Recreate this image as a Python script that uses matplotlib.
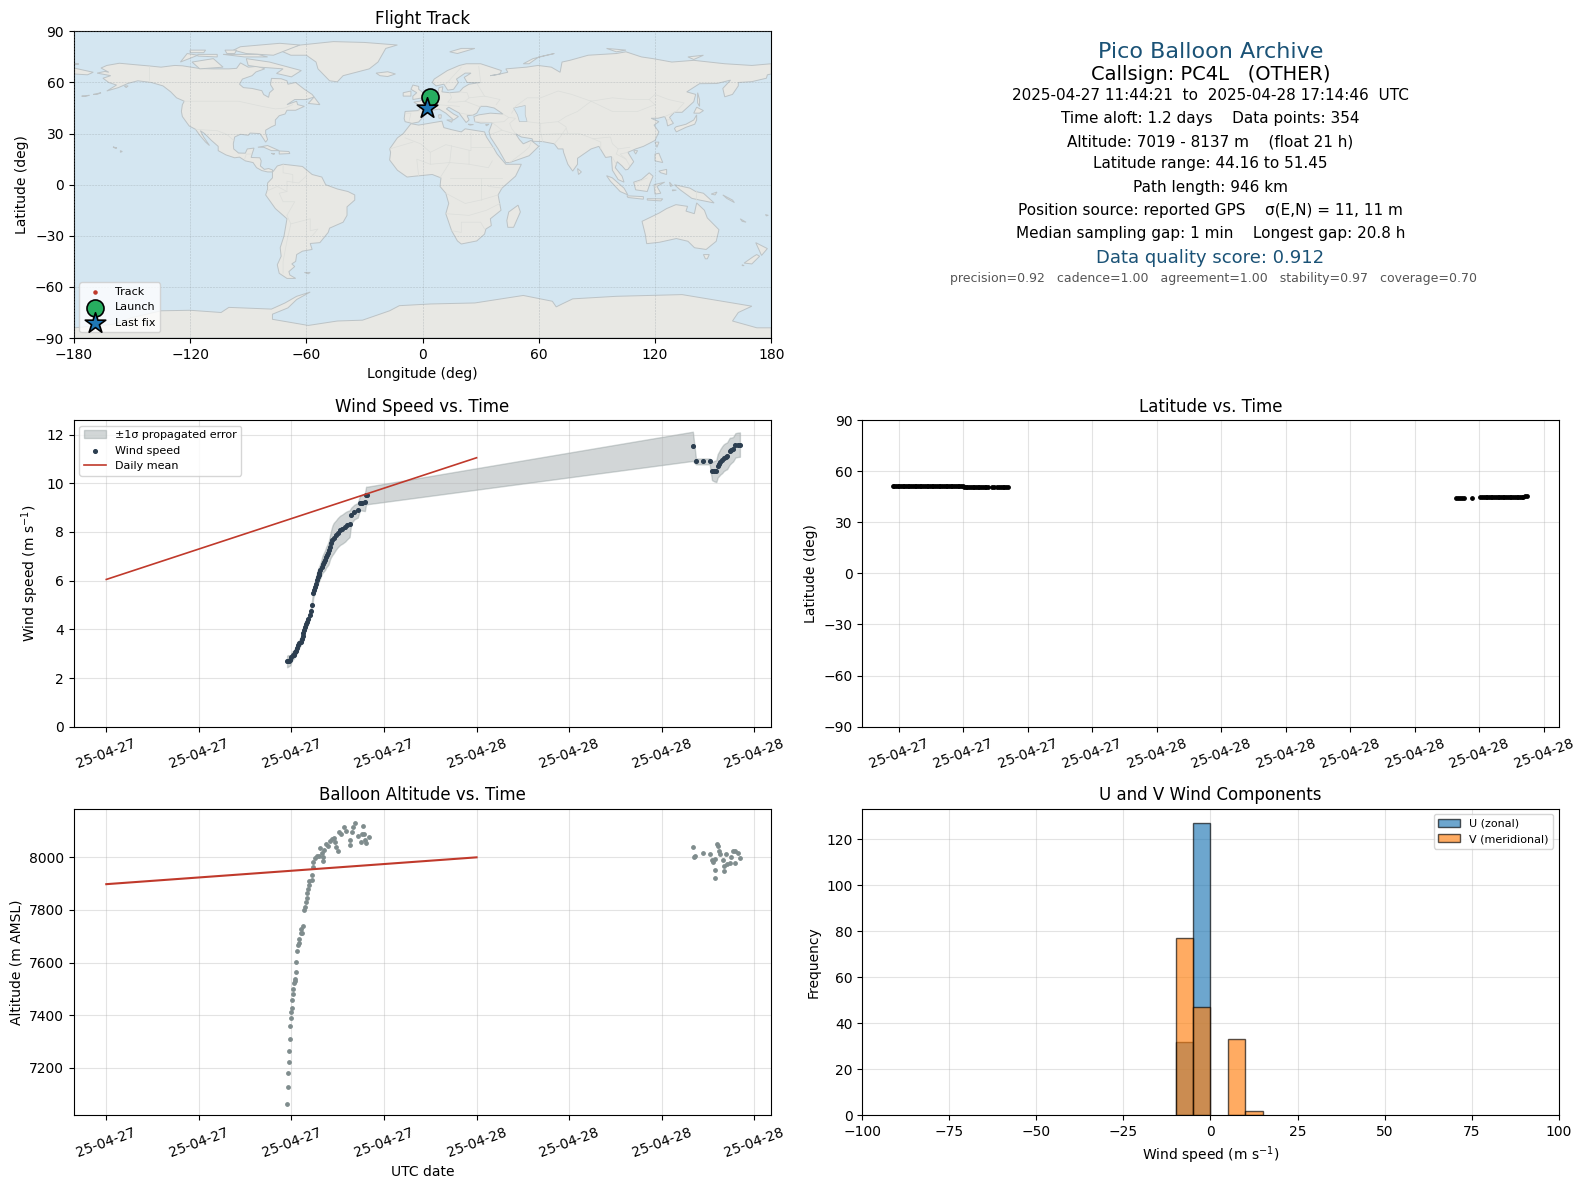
import matplotlib
matplotlib.use('Agg')
import matplotlib.pyplot as plt
import matplotlib.dates as mdates
import pandas as pd

# hours are counted from 2025-04-27 00:00 UTC
T0 = pd.Timestamp('2025-04-27 00:00:00')

wind_hours = [11.72, 11.78, 11.85, 11.93, 12.0, 12.08, 12.15, 12.22, 12.3, 12.37, 12.45, 12.52, 12.59, 12.66,
              12.72, 12.76, 12.82, 12.87, 12.95, 13.03, 13.1, 13.2, 13.26, 13.33, 13.42, 13.47, 13.53, 13.58,
              13.64, 13.7, 13.76, 13.81, 13.88, 13.96, 14.02, 14.1, 14.18, 14.25, 14.33, 14.4, 14.46, 14.51,
              14.58, 14.66, 14.74, 14.88, 15.0, 15.16, 15.3, 15.49, 15.6, 15.77, 15.88, 16.08, 16.3, 16.44,
              16.5, 16.58, 16.76, 16.84, 16.91, 38.02, 38.22, 38.65, 39.11, 39.26, 39.4, 39.54, 39.63, 39.72,
              39.8, 39.92, 40.02, 40.14, 40.24, 40.41, 40.52, 40.63, 40.78, 40.92, 41.07]
wind_speed = [2.68, 2.7, 2.71, 2.72, 2.85, 2.93, 2.95, 3.05, 3.12, 3.23, 3.35, 3.43, 3.5, 3.62,
              3.72, 3.84, 3.96, 4.11, 4.2, 4.32, 4.44, 4.59, 4.75, 5.0, 5.48, 5.6, 5.75, 5.88,
              6.02, 6.15, 6.22, 6.3, 6.42, 6.57, 6.68, 6.76, 6.84, 6.96, 7.04, 7.12, 7.26, 7.39,
              7.53, 7.66, 7.75, 7.87, 7.97, 8.07, 8.12, 8.21, 8.27, 8.34, 8.68, 8.82, 8.89, 9.19,
              9.19, 9.2, 9.22, 9.5, 9.5, 11.52, 10.9, 10.9, 10.9, 10.5, 10.5, 10.5, 10.72, 10.8,
              10.88, 10.97, 11.05, 11.1, 11.13, 11.32, 11.36, 11.4, 11.56, 11.58, 11.59]
wind_err = [0.24, 0.24, 0.22, 0.2, 0.18, 0.18, 0.16, 0.16, 0.16, 0.16, 0.16, 0.16, 0.16, 0.16,
            0.16, 0.16, 0.16, 0.16, 0.16, 0.16, 0.16, 0.16, 0.16, 0.16, 0.16, 0.2, 0.22, 0.24,
            0.26, 0.28, 0.3, 0.3, 0.3, 0.32, 0.35, 0.38, 0.4, 0.42, 0.44, 0.46, 0.48, 0.5,
            0.55, 0.6, 0.62, 0.6, 0.6, 0.6, 0.6, 0.6, 0.58, 0.55, 0.32, 0.3, 0.3, 0.3,
            0.3, 0.32, 0.36, 0.36, 0.36, 0.6, 0.12, 0.12, 0.12, 0.37, 0.42, 0.45, 0.48, 0.5,
            0.52, 0.55, 0.55, 0.55, 0.55, 0.55, 0.52, 0.5, 0.5, 0.5, 0.5]

mean_hours = [0.0, 24.0]
mean_wind = [6.05, 11.05]
mean_alt = [7898, 8000]

lat_hours = [11.74, 11.8, 11.88, 11.95, 12.02, 12.1, 12.18, 12.26, 12.34, 12.42, 12.5, 12.58, 12.66, 12.74,
             12.82, 12.9, 12.98, 13.06, 13.14, 13.22, 13.3, 13.38, 13.46, 13.54, 13.62, 13.7, 13.78, 13.86,
             13.94, 14.02, 14.1, 14.18, 14.26, 14.34, 14.42, 14.5, 14.58, 14.66, 14.74, 14.82, 14.9, 14.98,
             15.05, 15.12, 15.2, 15.28, 15.36, 15.44, 15.52, 15.6, 15.68, 15.76, 15.84, 15.92, 16.0, 16.08,
             16.16, 16.34, 16.42, 16.58, 16.68, 16.76, 16.84, 16.92, 17.0, 17.07,
             37.93, 38.02, 38.12, 38.22, 38.3, 38.66, 39.06, 39.14, 39.22, 39.3, 39.38, 39.46, 39.54, 39.62,
             39.7, 39.78, 39.86, 39.94, 40.02, 40.1, 40.18, 40.26, 40.34, 40.42, 40.5, 40.58, 40.66, 40.74,
             40.82, 40.9, 40.98, 41.06, 41.14, 41.22]
latitude = [51.45, 51.44, 51.43, 51.42, 51.42, 51.41, 51.4, 51.4, 51.39, 51.38, 51.38, 51.37, 51.36, 51.36,
            51.35, 51.34, 51.34, 51.33, 51.32, 51.32, 51.31, 51.3, 51.3, 51.29, 51.28, 51.28, 51.27, 51.26,
            51.26, 51.25, 51.24, 51.24, 51.23, 51.22, 51.22, 51.21, 51.2, 51.2, 51.19, 51.18, 51.15, 51.1,
            50.9, 50.85, 50.82, 50.8, 50.78, 50.76, 50.74, 50.72, 50.7, 50.69, 50.68, 50.67, 50.66, 50.65,
            50.64, 50.62, 50.6, 50.58, 50.56, 50.55, 50.54, 50.53, 50.52, 50.5,
            44.16, 44.17, 44.18, 44.2, 44.22, 44.3, 44.62, 44.64, 44.66, 44.66, 44.68, 44.7, 44.7, 44.72,
            44.72, 44.74, 44.75, 44.76, 44.76, 44.78, 44.78, 44.8, 44.8, 44.82, 44.84, 44.86, 44.88, 44.9,
            44.94, 44.98, 45.02, 45.1, 45.2, 45.3]

alt_hours = [11.72, 11.78, 11.78, 11.85, 11.85, 11.91, 11.91, 11.98, 11.98, 12.04, 12.04, 12.11, 12.11, 12.17,
             12.22, 12.26, 12.31, 12.31, 12.37, 12.41, 12.5, 12.5, 12.59, 12.7, 12.65, 12.76, 12.83, 12.87,
             12.96, 12.98, 13.03, 13.05, 13.11, 13.16, 13.31, 13.35, 13.42, 13.42, 13.53, 13.64, 13.85, 13.96,
             14.07, 14.02, 13.81, 14.14, 14.25, 14.4, 14.47, 14.62, 14.77, 14.84, 14.9, 15.01, 15.1, 15.23,
             15.38, 15.56, 15.77, 15.77, 15.93, 15.99, 16.1, 16.32, 16.5, 16.58, 16.63, 16.73, 16.78, 16.84,
             17.02, 38.0, 38.07, 38.17, 38.65, 39.11, 39.26, 39.33, 39.43, 39.43, 39.43, 39.59, 39.63, 39.7,
             39.8, 39.96, 40.02, 40.02, 40.2, 40.24, 40.41, 40.52, 40.63, 40.78, 40.93, 40.74, 41.07]
altitude = [7063, 7128, 7181, 7223, 7265, 7311, 7357, 7391, 7411, 7429, 7456, 7479, 7498, 7521,
            7530, 7538, 7563, 7601, 7643, 7667, 7676, 7690, 7714, 7714, 7727, 7738, 7799, 7813,
            7830, 7847, 7864, 7879, 7894, 7911, 7915, 7931, 7962, 7983, 7997, 8006, 8036, 8015,
            7987, 8000, 8006, 8028, 8051, 8045, 8064, 8070, 8074, 8057, 8038, 8023, 8095, 8089,
            8114, 8099, 8066, 8047, 8095, 8114, 8130, 8083, 8058, 8089, 8120, 8089, 8066, 8055,
            8078, 8038, 8003, 8006, 8018, 8011, 7991, 7982, 7995, 7953, 7922, 8052, 8042, 8025,
            8013, 7991, 7966, 7949, 8013, 7975, 7978, 8003, 8025, 8023, 8018, 7978, 7997]

bin_left = [-10, -5, 5, 10]
u_counts = [32, 127, 0, 0]
v_counts = [77, 47, 33, 2]
bin_width = 5

track_lon = [3.6, 3.4, 3.1, 2.8, 2.5, 2.2]
track_lat = [51.45, 50.8, 50.5, 44.2, 44.7, 45.3]

north_america = [(-168,65.5),(-164,66.5),(-162,66),(-166,68.5),(-163,70),(-156.5,71.3),(-148,70.4),(-141,69.7),(-135,69),(-128,70),(-124,69.8),(-115,68.2),(-108,68),(-100,68),(-96,68.3),(-94,71.5),(-90,69),(-85,69.5),(-81.5,68),(-86,66.2),(-88,64),(-93,62),(-94.5,59),(-92.5,57),(-88,56.5),(-83,55.2),(-82,52.9),(-79.5,51.3),(-79,54),(-77,56),(-78.5,58.7),(-78,62.4),(-73,62.2),(-70,61),(-69.5,59),(-65.5,60),(-61,56),(-57,53),(-56,51.5),(-60,50),(-66,50),(-70,47),(-65,49),(-64.5,47),(-61,46),(-65.5,43.7),(-70,43.7),(-71,41.5),(-74,40.5),(-76,38),(-76,35),(-78,34),(-81,32),(-81,30),(-80,26.5),(-81,25),(-82.7,28),(-84,30),(-89,30.3),(-90,29),(-94,29.6),(-97,28),(-97.7,24),(-97.5,21),(-95,18.6),(-91.5,18.5),(-90.5,21),(-87,21.5),(-88,18),(-88.5,16),(-84,15.8),(-83.3,14),(-83.7,11),(-81.7,9),(-79.5,9.5),(-77.5,8.7),(-77.5,7.5),(-80,7.5),(-83,8.3),(-85.7,10),(-87.5,13),(-91.5,14),(-94.5,16.2),(-97,15.8),(-101.5,17.5),(-105.5,20),(-105.5,22.5),(-109,26),(-112.5,30),(-114.7,31.7),(-113,28),(-110,23),(-112,25),(-115,29),(-117.2,32.5),(-120.5,34.5),(-124,40),(-124.5,43),(-124,47),(-123,49),(-127,51),(-130,54.5),(-134,58),(-140,60),(-147,61),(-152,59.5),(-157,57),(-163,55),(-158,58.5),(-162,60),(-165,62.5),(-161,64)]
south_america = [(-77,8),(-75,11),(-72,12),(-68,11.5),(-62,10.7),(-57,6),(-52,4.5),(-50,0),(-44,-2.5),(-38.5,-4),(-35,-6),(-35,-9),(-39,-13),(-39,-18),(-41,-22),(-48,-25.5),(-48.7,-28),(-53,-34),(-58,-34.5),(-57,-38),(-62,-39),(-65,-41),(-65.5,-45),(-67.5,-46.5),(-66,-48),(-69,-51),(-68.5,-53),(-65.5,-55),(-70,-55),(-74,-52),(-75,-47),(-73,-42),(-73.5,-37),(-71.5,-30),(-70,-20),(-76,-14),(-81,-6),(-80,-2.5),(-80,1),(-77.5,4),(-77.5,7.5)]
africa = [(-6,35.8),(-2,35),(10,37.3),(11,33.5),(15,32.3),(20,31),(22,32.8),(32,31),(33,28),(37,21),(38.5,18),(43,12),(51,12),(48,5),(41,-2),(39,-6),(40.5,-15),(35,-20),(35.5,-24),(32.7,-26),(32,-29),(28,-33),(20,-34.8),(18,-33),(15,-27),(12,-17),(13.5,-11),(12,-5),(9,-1),(9.5,4),(5,6),(-4,5),(-8,4.5),(-13,8.5),(-17,14.5),(-16.5,19),(-17,21),(-13,27.5),(-10,30)]
eurasia = [(-9,37),(-9.5,38.8),(-9,43),(-2,43.5),(-1,46),(-4.5,48.5),(-1.5,49),(2,51),(4,52),(8,54),(8.5,57),(10.5,57.5),(10,54.5),(14,54),(19,54.5),(21,57),(24,59),(30,60),(23,60),(21.5,63),(25,65.5),(22,65.5),(17.5,62),(18.5,60),(16,56),(13,55.5),(11,59),(7,58),(5,60),(6,62),(12.8,67),(19,70),(22.6,71),(30,71),(40.7,67),(40,65),(35,64),(38,64.5),(44,66),(43,68),(53.6,69),(59.6,70),(66.5,69),(71,66),(72,72),(76,73),(85.5,76),(100,77),(105,78),(113,75),(119,74),(128.7,72),(140,73),(156,71),(170,70),(180,71),(180,65),(178,64.5),(177.5,62.5),(170,60.5),(163,60),(163,58),(160,53),(156,51.6),(155,56.5),(159,61.4),(152,59.4),(143,59.3),(136.4,54.5),(141,53),(140,48.7),(134,42.5),(130,42.5),(127.5,39.5),(129.5,36),(126.5,34.5),(126,37.5),(125,40),(121.5,39),(118,39),(122,37),(119.5,35),(122,31),(120,26),(114,22.5),(110,21),(106,19),(109,13.5),(106,9),(104.8,8.7),(103,11),(100.5,13.5),(99.5,10),(103,5),(104,1.5),(101,3),(98,8.5),(97.5,16.5),(94.5,16),(91,22.5),(87,21),(80,15.5),(80,12),(77.5,8),(75,12),(72.8,19),(72.5,21),(70,21),(68,24),(62,25.3),(57,25.5),(56.5,27),(51,28),(48,30),(50,26.5),(52,24),(56,26),(60,22.5),(55,17),(45,13),(43,13),(39,21),(35,28),(34.3,31.3),(36,36.5),(30,36.2),(27,37),(26.5,40),(29,41),(35,42),(41.5,41.5),(37,45),(33,46),(30,46),(28,42),(26,40.8),(23,40.5),(24,38),(22.5,36.5),(19.5,41),(19,42),(13.5,45.5),(12.3,44.5),(16,41.5),(18.5,40),(16,38),(12,42),(8.5,44.4),(3.5,43.3),(0,39.5),(-2,36.8),(-5.5,36)]
australia = [(113.3,-21.5),(122.2,-16.6),(126,-14),(130.8,-11.7),(136.8,-12.7),(136,-15.5),(140.3,-17),(141.5,-10.7),(145.5,-15),(147,-19.5),(153,-26.4),(151.6,-33.2),(146.4,-38),(140.4,-37),(137,-33.2),(131,-31.6),(122.2,-33.8),(115.7,-34.6),(115,-29.3)]
antarctica = [(-180,-84),(-160,-82),(-150,-78),(-135,-74),(-120,-73.7),(-104,-75),(-100,-72),(-78,-73),(-71,-69.4),(-65,-65.5),(-58,-63),(-65,-67.4),(-69.5,-72.3),(-77.5,-76),(-77.5,-79),(-59,-82.6),(-44,-80),(-31,-79.5),(-17,-74),(-12,-71),(4,-70),(27,-69.4),(52,-65),(67,-68.4),(69,-71.7),(72,-70),(77.5,-67),(100,-65.5),(134,-64.5),(160,-69.4),(170,-71.3),(163,-75),(160,-80),(172.6,-84),(180,-84),(180,-90),(-180,-90)]
islands = [
    [(-74,79),(-63,82),(-46,84),(-30,83.5),(-13,82),(-19,80),(-23,72),(-27.5,68),(-41,64),(-44,60.4),(-48,61),(-54,68),(-55,72),(-60,76),(-68,76)],
    [(-91,74),(-79,72),(-62.6,67),(-67.7,63.3),(-75.4,65.3),(-72,68),(-84,69),(-90,70)],
    [(-119,72),(-108,74),(-103,69),(-115,68)],
    [(-97.6,79),(-94,81),(-73.7,83),(-63.4,82),(-77,76),(-91,77)],
    [(-125,72),(-121.5,77),(-116,76)],
    [(-103,76.5),(-92,75),(-80,75),(-85,76.5)],
    [(-116,75.5),(-106,75),(-106,76.5),(-116,76.5)],
    [(-102,79),(-96,79),(-97,77),(-101,77)],
    [(-120,79),(-112,79),(-113,77.5),(-120,77.5)],
    [(-59,47.7),(-56,51.5),(-53,47)],
    [(-5,50),(1,51.2),(1.5,53),(-2,56),(-2,57.7),(-5,58.5),(-6,56),(-3,54),(-5,52)],
    [(-10,52),(-6,52),(-6,55),(-10,54)],
    [(-24,65.5),(-18,66.3),(-14,65),(-18,63.5),(-22,64)],
    [(12.5,38),(15.5,38),(15,36.7)],
    [(8.3,41),(9.7,41),(9.5,39),(8.5,39)],
    [(49.3,-12),(50.5,-16),(47,-25),(44,-25),(43.5,-21),(44.5,-16)],
    [(80,9.5),(82,7.5),(80.5,6)],
    [(130.9,34),(136,35.5),(140,38),(141.5,41),(141.5,38),(140.5,35.5),(136,33.7),(131,31),(130,33)],
    [(140,42),(141.5,45.5),(145,43.5),(143,42)],
    [(142,54),(143,50),(143,46),(142,48)],
    [(120,25),(122,25),(121,22)],
    [(109,20),(111,20),(110,18)],
    [(120,18),(122,18.5),(124,13),(120,14)],
    [(122,8),(126,9),(126,6),(123,7)],
    [(109,1.5),(113,3),(117,7),(119,5),(117.5,1),(116,-4),(110,-3)],
    [(95,5.3),(98,4),(104,-2),(106,-6),(102,-4),(97,2)],
    [(105.5,-6.5),(114,-7),(114,-8.5),(106,-7.5)],
    [(116,-8.2),(124,-8.3),(123,-9.5),(116,-9)],
    [(119.5,0),(125,1.5),(121,-1),(123,-5),(120,-5.5)],
    [(127.5,1.5),(129,-0.5),(128,-1)],
    [(129,-3),(131,-3.2),(129,-3.6)],
    [(130,0),(138,-2),(141,-4),(145,-5),(150.5,-10.7),(143,-9),(139,-8),(133,-3)],
    [(149,-5.5),(152,-4.3),(151,-6)],
    [(155,-6),(160,-9),(161,-10.5),(157,-8)],
    [(164,-20),(167,-22),(165,-21.5)],
    [(177,-17.5),(178.5,-18),(177.5,-18.3)],
    [(145,-41),(148,-41),(147,-43.5),(146,-43.5)],
    [(172,-34),(178,-37.5),(175,-41.5),(174,-39)],
    [(172.5,-41),(174,-42),(170,-46.5),(166,-46),(171,-42)],
    [(-85,22),(-80,23),(-74,20),(-78,20),(-82,22)],
    [(-74,19.8),(-69,19.5),(-68.5,18.3),(-74,18)],
    [(-78,18.4),(-76.3,18.2),(-77,17.8)],
    [(14,78),(20,80),(27,80),(18,77)],
    [(52,71),(57,74),(68,77),(60,75),(55,71)],
    [(-61,-51.5),(-58,-51.5),(-59,-52.3)],
    [(-156,20),(-155,19.5),(-156,19)],
    [(-159.8,22.2),(-157.8,21.6),(-158.5,21.3)],
    [(-180,71.5),(-178,71.5),(-178,70.8),(-180,70.8)],
    [(-180,68.5),(-170,66),(-173,64.5),(-180,65)],
    [(-170,53),(-166,54),(-168,53)],
    [(-176,52),(-172,52.5),(-174,51.8)],
    [(-154,58),(-152,58),(-153,57)],
    [(95,80),(105,79),(100,78)],
    [(137,75),(145,76),(140,73.5)],
    [(165,-47),(166,-47.5),(165,-47.5)],
    [(32.5,35.3),(34.3,35.5),(33,34.6)],
    [(23.5,35.5),(26.2,35.3),(24.5,35)],
]
lakes = [
    [(47,45),(53,46.5),(53,41),(54,37),(50,37),(49,41)],
]
borders = [
    [(-123,49),(-95,49),(-83,46),(-76,44.5),(-71,45),(-67,47)],
    [(-141,69.7),(-141,60)],
    [(-117,32.5),(-106,31.7),(-101,29.5),(-97.5,26)],
    [(-92,14.5),(-91,18),(-88.5,18)],
    [(-70,-18),(-68,-23),(-70,-33),(-72,-45),(-72,-52)],
    [(-70,-18),(-66,-10),(-72,-10),(-74,-5),(-70,-4),(-70,2),(-64,1),(-60,5)],
    [(-80,-3.5),(-75,-1),(-70,-4)],
    [(-68,-23),(-58,-20),(-58,-27),(-54,-26),(-57,-30)],
    [(-72,12),(-72,7),(-67,6),(-67,1)],
    [(-9,27.5),(-1,24),(4,19),(12,23.5),(25,20),(25,31)],
    [(25,22),(37,22)],
    [(-17,21),(-5,25)],
    [(4,19),(4,12),(14,13),(15,23)],
    [(14,13),(24,12),(24,20)],
    [(24,12),(34,10),(36,14)],
    [(9,4),(14,13)],
    [(14,4),(30,4),(34,4),(41,4)],
    [(12,-5),(22,-11),(30,-9),(39,-6)],
    [(12,-17),(24,-18),(33,-15),(40,-11)],
    [(15,-27),(20,-28),(20,-22),(30,-22),(32,-26)],
    [(-2,5),(-3,15),(4,12)],
    [(30,4),(30,-9)],
    [(34,-1),(41,-2)],
    [(-9,42),(-6,42),(-7,37)],
    [(-2,43.5),(3,42.5)],
    [(2,51),(8,49),(7,47),(13.5,46.5),(19,46)],
    [(7,53.5),(6,50),(8,49)],
    [(14,54),(15,51),(13,48.5),(17,48.5),(22,49),(24,51),(23,54),(19,54.5)],
    [(24,51),(32,52),(40,50),(38,47)],
    [(22,49),(29,46),(30,46)],
    [(28,59.5),(32,52)],
    [(30,60),(29,69.5)],
    [(12,59),(16,64),(20,69)],
    [(26,40.8),(22,41.5),(19.5,42)],
    [(27,37),(36,36.5),(42,37),(44.5,39.5),(41.5,41.5)],
    [(36,36.5),(41,32),(47,30),(48,30)],
    [(41,32),(35,29.5)],
    [(44.5,39.5),(48,39),(45,36),(46,33),(48,30)],
    [(45,13),(52,19),(55,22),(56,25)],
    [(46,42),(48,46),(54,51),(61,51),(70,55),(77,53),(87,49)],
    [(87,49),(98,51),(107,50),(117,50),(120,53),(127,50),(135,48),(131,43),(130,42.5)],
    [(87,49),(80,43),(74,40),(70,37),(74,34),(75,30),(81,30),(88,27),(97,28),(98,24),(101,21),(107,22)],
    [(87,49),(98,43),(111,43),(120,47),(117,50)],
    [(54,37),(61,36),(61,31),(62,25.3)],
    [(61,36),(70,37)],
    [(61,29.5),(70,30),(75,30)],
    [(68,24),(71,28),(74,33)],
    [(88,27),(92,25),(92,21)],
    [(101,21),(100,18),(105,15),(107,11)],
    [(106,19),(102,18),(105,15)],
    [(98,16),(100,12)],
    [(125,40),(130,42.5)],
    [(126.5,38),(128.5,38.5)],
    [(141,-3),(141,-9)],
    [(110,1),(116,4)],
]

W, H = 1587, 1189
k = 1587 / 1568


def place(x0, x1, y0, y1):
    # pixel box -> figure fractions
    return [x0 * k / W, 1 - y1 * k / H, (x1 - x0) * k / W, (y1 - y0) * k / H]


def to_dates(hours):
    return T0 + pd.to_timedelta(hours, unit='h')


def time_axis(ax, step, low, high):
    ax.xaxis.set_major_locator(mdates.HourLocator(byhour=range(0, 24, step)))
    ax.xaxis.set_major_formatter(mdates.DateFormatter('%y-%m-%d'))
    ax.set_xlim(to_dates([low])[0], to_dates([high])[0])
    ax.tick_params(axis='x', labelrotation=20)
    ax.grid(True, color='#b0b0b0', alpha=0.35, linewidth=0.8)


fig = plt.figure(figsize=(W / 100, H / 100), dpi=100)

# flight track map
ax = fig.add_axes(place(73, 762, 31, 334))
ax.set_facecolor('#d4e6f1')
for poly in [north_america, south_america, africa, eurasia, australia, antarctica] + islands:
    ax.fill([p[0] for p in poly], [p[1] for p in poly], facecolor='#e8e8e4', edgecolor='#bcc3c6',
            linewidth=0.7, zorder=1)
for poly in lakes:
    ax.fill([p[0] for p in poly], [p[1] for p in poly], facecolor='#d4e6f1', edgecolor='#bcc3c6',
            linewidth=0.5, zorder=1.1)
for line in borders:
    ax.plot([p[0] for p in line], [p[1] for p in line], color='#dcdedb', linewidth=0.5, zorder=1.2)
ax.grid(True, linestyle='--', linewidth=0.4, color='#8a9499', alpha=0.45, zorder=1.5)
ax.set_axisbelow(False)
ax.scatter(track_lon, track_lat, s=5, color='#c0392b', label='Track', zorder=3)
ax.scatter(track_lon[0], track_lat[0], s=150, color='#27ae60', edgecolor='black', linewidth=1.2,
           label='Launch', zorder=4)
ax.scatter(track_lon[-1], track_lat[-1], s=240, marker='*', color='#1f77b4', edgecolor='black',
           linewidth=1.2, label='Last fix', zorder=5)
ax.set_xlim(-180, 180)
ax.set_ylim(-90, 90)
ax.set_xticks(range(-180, 181, 60))
ax.set_yticks(range(-90, 91, 30))
ax.set_xlabel('Longitude (deg)')
ax.set_ylabel('Latitude (deg)')
ax.set_title('Flight Track', pad=5.5)
ax.legend(loc='lower left', fontsize=8)

# summary text
ax = fig.add_axes(place(852, 1540, 31, 334))
ax.axis('off')
ax.set_xlim(0, 1)
ax.set_ylim(334, 31)
ax.text(0.5, 51, 'Pico Balloon Archive', ha='center', va='center', fontsize=16, color='#1a5276')
ax.text(0.5, 74, 'Callsign: PC4L   (OTHER)', ha='center', va='center', fontsize=14)
lines = ['2025-04-27 11:44:21  to  2025-04-28 17:14:46  UTC',
         'Time aloft: 1.2 days    Data points: 354',
         'Altitude: 7019 - 8137 m    (float 21 h)',
         'Latitude range: 44.16 to 51.45',
         'Path length: 946 km',
         'Position source: reported GPS    σ(E,N) = 11, 11 m',
         'Median sampling gap: 1 min    Longest gap: 20.8 h']
for y, s in zip([94, 117, 140, 162, 185, 208, 231], lines):
    ax.text(0.5, y, s, ha='center', va='center', fontsize=11)
ax.text(0.5, 255, 'Data quality score: 0.912', ha='center', va='center', fontsize=13, color='#1a5276')
ax.text(0.504, 275, 'precision=0.92   cadence=1.00   agreement=1.00   stability=0.97   coverage=0.70',
        ha='center', va='center', fontsize=9, color='#555555')

# wind speed
ax = fig.add_axes(place(73, 762, 415, 718))
wind_t = to_dates(wind_hours)
lower = [w - e for w, e in zip(wind_speed, wind_err)]
upper = [w + e for w, e in zip(wind_speed, wind_err)]
ax.fill_between(wind_t, lower, upper, color='#7f8c8d', alpha=0.35, label='±1σ propagated error')
ax.scatter(wind_t, wind_speed, s=7, color='#2c3e50', label='Wind speed', zorder=3)
ax.plot(to_dates(mean_hours), mean_wind, color='#c0392b', linewidth=1.2, label='Daily mean', zorder=4)
time_axis(ax, 6, -2.1, 43.1)
ax.set_ylim(0, 12.6)
ax.set_ylabel('Wind speed (m s$^{-1}$)')
ax.set_title('Wind Speed vs. Time')
ax.legend(loc='upper left', fontsize=8)

# latitude
ax = fig.add_axes(place(852, 1540, 415, 718))
ax.scatter(to_dates(lat_hours), latitude, s=6, color='black', zorder=3)
time_axis(ax, 3, 10.31, 42.7)
ax.set_ylim(-90, 90)
ax.set_yticks(range(-90, 91, 30))
ax.set_ylabel('Latitude (deg)')
ax.set_title('Latitude vs. Time')

# altitude
ax = fig.add_axes(place(73, 762, 799, 1102))
ax.scatter(to_dates(alt_hours), altitude, s=6, color='#7f8c8d', zorder=3)
ax.plot(to_dates(mean_hours), mean_alt, color='#c0392b', linewidth=1.5, zorder=4)
time_axis(ax, 6, -2.1, 43.1)
ax.set_ylim(7019, 8185)
ax.set_xlabel('UTC date')
ax.set_ylabel('Altitude (m AMSL)')
ax.set_title('Balloon Altitude vs. Time')

# wind components
ax = fig.add_axes(place(852, 1540, 799, 1102))
ax.bar(bin_left, u_counts, width=bin_width, align='edge', color='#1f77b4', alpha=0.65, edgecolor='black',
       label='U (zonal)', zorder=3)
ax.bar(bin_left, v_counts, width=bin_width, align='edge', color='#ff7f0e', alpha=0.65, edgecolor='black',
       label='V (meridional)', zorder=3)
ax.set_xlim(-100, 100)
ax.set_ylim(0, 133.35)
ax.grid(True, color='#b0b0b0', alpha=0.35, linewidth=0.8)
ax.set_xlabel('Wind speed (m s$^{-1}$)')
ax.set_ylabel('Frequency')
ax.set_title('U and V Wind Components')
ax.legend(loc='upper right', fontsize=8)

fig.savefig('out.png', dpi=100)
